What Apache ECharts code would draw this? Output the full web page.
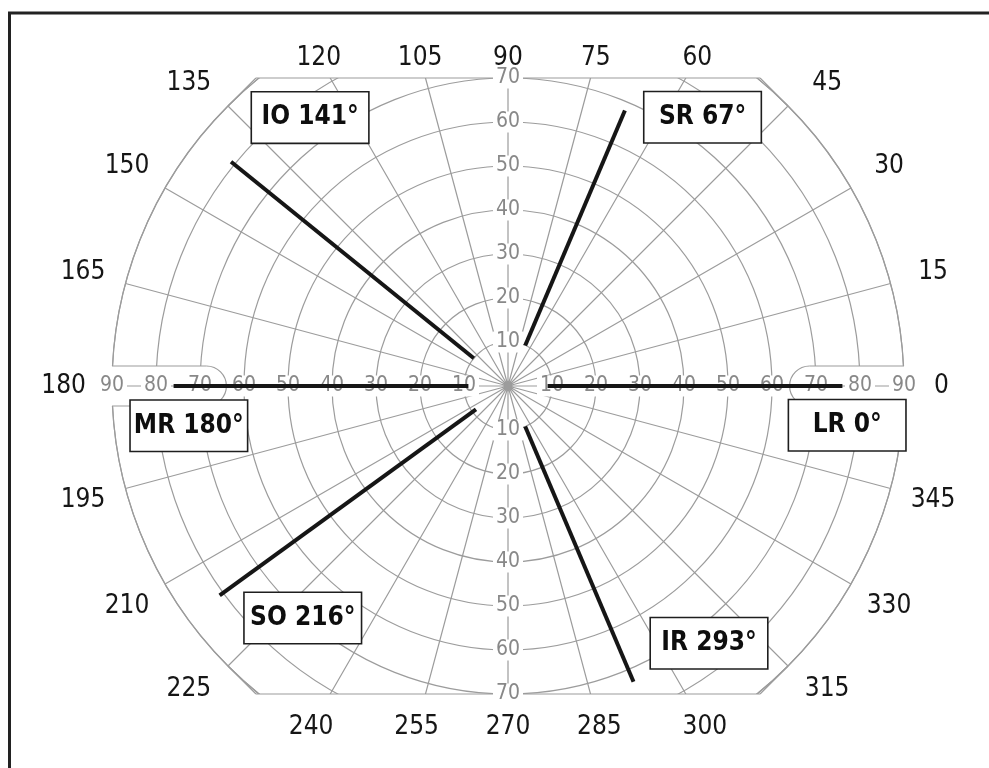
<!DOCTYPE html>
<html><head><meta charset="utf-8">
<script src="https://cdn.jsdelivr.net/npm/echarts@6/dist/echarts.min.js"></script>
<style>html,body{margin:0;padding:0;background:#fff}#c{width:989px;height:768px}</style>
</head><body><div id="c"></div>
<script>
// ---------------- data ----------------
const muscleNames = ['LR 0°', 'SR 67°', 'IO 141°', 'MR 180°', 'SO 216°', 'IR 293°'];
const muscleAngles = [0, 67, 141, 180, 216, 293];
const lineStartR = [9, 10, 10, 9, 9, 10];
const lineEndR = [76, 68, 81, 76, 81, 73];
const angleTicks = [0, 15, 30, 45, 60, 75, 90, 105, 120, 135, 150, 165, 180, 195, 210, 225, 240, 255, 270, 285, 300, 315, 330, 345];
const ringTicksH = [10, 20, 30, 40, 50, 60, 70, 80, 90];
const ringTicksV = [10, 20, 30, 40, 50, 60, 70];

// ---------------- layout ----------------
const W = 989, H = 768;
const cx = 508, cy = 386, R = 396;
const u = R / 90;
const NARROW = "'Liberation Sans Narrow','Arial Narrow','DejaVu Sans Condensed',sans-serif";
const GRID = '#9c9c9c';
const LABEL_GRAY = '#888888';
const INK = '#161616';
// annotation box anchors (polar: radius, angle), one per muscle
const boxLayout = [[77.6, 353.4], [75.4, 54.1], [75.8, 126.4], [73.1, 187.1], [70.4, 228.5], [74.2, 308]];

function tickLabelPos(a) {
  const s = Math.sin(a * Math.PI / 180);
  if (Math.abs(s) > 0.8) {
    const dy = s > 0 ? 74.5 : 77.5;
    return [dy / Math.abs(s), a];
  }
  let adj = 0;
  if (a === 45 || a === 225) adj = -1.5;
  if (a === 135 || a === 315) adj = 1.5;
  let r = 100;
  if (a === 0) r = 98.5;
  if (a === 180) r = 101;
  return [r, a + adj];
}

const hiddenSymbol = {symbol: 'circle', symbolSize: 1, itemStyle: {color: 'rgba(0,0,0,0)', opacity: 1}};
const series = [];

// inner radial labels (gray, white background)
const innerData = [];
ringTicksH.forEach(r => { innerData.push({name: String(r), value: [r, 0]}); innerData.push({name: String(r), value: [r, 180]}); });
ringTicksV.forEach(r => { innerData.push({name: String(r), value: [r, 90]}); innerData.push({name: String(r), value: [r, 270]}); });
series.push(Object.assign({
  type: 'scatter', coordinateSystem: 'polar', z: 10, clip: false, silent: true,
  label: {show: true, position: 'inside', formatter: p => p.name, color: LABEL_GRAY, opacity: 1,
    fontFamily: NARROW, fontSize: 21, backgroundColor: '#fff', padding: [0, 3]},
  data: innerData
}, hiddenSymbol));

// muscle lines
muscleNames.forEach((n, i) => {
  series.push({
    type: 'line', coordinateSystem: 'polar', z: 12, silent: true, symbol: 'none',
    lineStyle: {color: INK, width: 4, cap: 'butt', opacity: 1},
    data: [[lineStartR[i], muscleAngles[i]], [lineEndR[i], muscleAngles[i]]]
  });
});

// annotation boxes
series.push(Object.assign({
  type: 'scatter', coordinateSystem: 'polar', z: 15, clip: false, silent: true,
  label: {show: true, position: 'inside', formatter: p => p.name, color: '#0e0e0e', opacity: 1,
    fontFamily: NARROW, fontWeight: 'bold', fontSize: 26, backgroundColor: '#fff',
    borderColor: '#1e1e1e', borderWidth: 1.6, width: 116, height: 50, lineHeight: 50,
    align: 'center', verticalAlign: 'middle', padding: 0},
  data: muscleNames.map((n, i) => ({name: n, value: boxLayout[i]}))
}, hiddenSymbol));

// angle tick labels
series.push(Object.assign({
  type: 'scatter', coordinateSystem: 'polar', z: 15, clip: false, silent: true,
  label: {show: true, position: 'inside', formatter: p => p.name, color: INK, opacity: 1,
    fontFamily: NARROW, fontSize: 26},
  data: angleTicks.map(a => ({name: String(a), value: tickLabelPos(a)}))
}, hiddenSymbol));

// ---------------- frame / masks ----------------
const yTop = cy - 70 * u, yBot = cy + 70 * u;
const xTan = 57.28 * u, c45 = 63.64 * u;
const notchH = 20, tipR = 64;
const ls = {stroke: GRID, lineWidth: 1.2};
const graphics = [
  {type: 'rect', z: 5, silent: true, shape: {x: 0, y: 0, width: W, height: yTop}, style: {fill: '#fff'}},
  {type: 'rect', z: 5, silent: true, shape: {x: 0, y: yBot, width: W, height: H - yBot}, style: {fill: '#fff'}},
  {type: 'line', z: 6, silent: true, shape: {x1: cx - xTan, y1: yTop, x2: cx + xTan, y2: yTop}, style: ls},
  {type: 'line', z: 6, silent: true, shape: {x1: cx - xTan, y1: yBot, x2: cx + xTan, y2: yBot}, style: ls},
  {type: 'line', z: 6, silent: true, shape: {x1: cx + xTan, y1: yTop, x2: cx + c45, y2: cy - c45}, style: ls},
  {type: 'line', z: 6, silent: true, shape: {x1: cx - xTan, y1: yTop, x2: cx - c45, y2: cy - c45}, style: ls},
  {type: 'line', z: 6, silent: true, shape: {x1: cx + xTan, y1: yBot, x2: cx + c45, y2: cy + c45}, style: ls},
  {type: 'line', z: 6, silent: true, shape: {x1: cx - xTan, y1: yBot, x2: cx - c45, y2: cy + c45}, style: ls}
];
// notches at the horizontal axis ends
[1, -1].forEach(sgn => {
  const tip = cx + sgn * tipR * u;
  const outer = cx + sgn * R;
  const x0 = Math.min(tip, outer + sgn * 3), x1 = Math.max(tip, outer + sgn * 3);
  graphics.push({type: 'rect', z: 5, silent: true,
    shape: {x: x0, y: cy - notchH, width: x1 - x0, height: 2 * notchH,
      r: sgn > 0 ? [notchH, 0, 0, notchH] : [0, notchH, notchH, 0]},
    style: {fill: '#fff'}});
  const arcC = tip + sgn * notchH;
  graphics.push({type: 'arc', z: 6, silent: true,
    shape: {cx: arcC, cy: cy, r: notchH,
      startAngle: sgn > 0 ? Math.PI / 2 : -Math.PI / 2,
      endAngle: sgn > 0 ? Math.PI * 1.5 : Math.PI / 2, clockwise: true},
    style: {stroke: GRID, lineWidth: 1.2, fill: null}});
  graphics.push({type: 'line', z: 6, silent: true, shape: {x1: arcC, y1: cy - notchH, x2: outer, y2: cy - notchH}, style: ls});
  graphics.push({type: 'line', z: 6, silent: true, shape: {x1: arcC, y1: cy + notchH, x2: outer, y2: cy + notchH}, style: ls});
  graphics.push({type: 'line', z: 6, silent: true, shape: {x1: tip, y1: cy, x2: outer, y2: cy}, style: ls});
});
// outer frame (left and top edges)
graphics.push({type: 'line', z: 20, silent: true, shape: {x1: 9.5, y1: 12, x2: 9.5, y2: H}, style: {stroke: '#222', lineWidth: 3}});
graphics.push({type: 'line', z: 20, silent: true, shape: {x1: 8, y1: 13, x2: W, y2: 13}, style: {stroke: '#222', lineWidth: 3}});

const option = {
  backgroundColor: '#fff',
  animation: false,
  polar: {center: [cx, cy], radius: R},
  angleAxis: {
    type: 'value', min: 0, max: 360, interval: 15, startAngle: 0, clockwise: false, z: 1,
    axisLine: {show: true, lineStyle: {color: GRID, width: 1.2}},
    axisTick: {show: false}, axisLabel: {show: false},
    splitLine: {show: true, lineStyle: {color: GRID, width: 1.2}}
  },
  radiusAxis: {
    type: 'value', min: 0, max: 90, interval: 10, z: 1,
    axisLine: {show: false}, axisTick: {show: false}, axisLabel: {show: false},
    splitLine: {show: true, lineStyle: {color: GRID, width: 1.2}}
  },
  graphic: graphics,
  series: series
};
const chart = echarts.init(document.getElementById('c'));
chart.setOption(option);
</script>
</body></html>
